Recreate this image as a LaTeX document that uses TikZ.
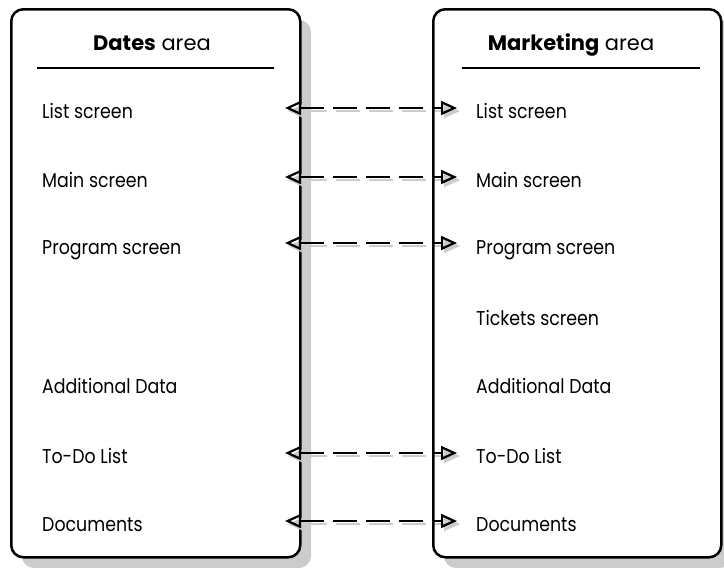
\documentclass[tikz,border=0pt]{standalone}
\usepackage{fontspec}
\setmainfont{Poppins}
\newfontfamily\itemfont[FakeStretch=0.87]{Poppins}
\usetikzlibrary{arrows.meta}
\definecolor{shadowgray}{HTML}{CCCCCC}
\begin{document}
\begin{tikzpicture}[x=1pt,y=-1pt,
  areabox/.style={draw=black, line width=2.5pt, rounded corners=12pt, fill=white,
    inner sep=0pt, anchor=north west},
  boxshadow/.style={fill=shadowgray, rounded corners=12pt},
  item/.style={anchor=base west, inner sep=0pt, font=\itemfont\fontsize{20}{24}\selectfont},
  head/.style={anchor=base, inner sep=0pt, font=\fontsize{21}{25}\selectfont},
  rule/.style={line width=1.6pt},
  link/.style={line width=2.2pt, dash pattern=on 24pt off 9pt,
    arrows={Triangle[open, length=16pt, width=14pt, line width=2.2pt]-Triangle[open, length=16pt, width=14pt, line width=2.2pt]}},
  linkshadow/.style={line width=2.2pt, draw=shadowgray, dash pattern=on 24pt off 9pt,
    arrows={Triangle[length=16pt, width=14pt, fill=shadowgray]-Triangle[length=16pt, width=14pt, fill=shadowgray]}}
]
\useasboundingbox (0,0) rectangle (724,568);

% drop shadows of the two areas
\fill[boxshadow] (22,20) rectangle (311,568);
\fill[boxshadow] (444,20) rectangle (732,568);

% the two areas
\node[areabox, minimum width=289pt, minimum height=548pt] (lbox) at (10,8) {};
\node[areabox, minimum width=288pt, minimum height=548pt] (rbox) at (432,8) {};

% headers
\node[head] (lhead) at (152,50) {\textbf{Dates} area};
\node[head] (rhead) at (571,50) {\textbf{Marketing} area};
\draw[rule] (37,68) -- (274,68);
\draw[rule] (462,68) -- (700,68);

% left items
\node[item] (l1) at (42,118) {List screen};
\node[item] (l2) at (42,187) {Main screen};
\node[item] (l3) at (42,254) {Program screen};
\node[item] (l5) at (42,393) {Additional Data};
\node[item] (l6) at (42,463) {To-Do List};
\node[item] (l7) at (42,531) {Documents};

% right items
\node[item] (r1) at (476,118) {List screen};
\node[item] (r2) at (476,187) {Main screen};
\node[item] (r3) at (476,254) {Program screen};
\node[item] (r4) at (476,325) {Tickets screen};
\node[item] (r5) at (476,393) {Additional Data};
\node[item] (r6) at (476,463) {To-Do List};
\node[item] (r7) at (476,531) {Documents};

% link end points
\foreach \n/\y in {1/108,2/177,3/243,6/453,7/521}{
  \coordinate (la\n) at (285,\y);
  \coordinate (ra\n) at (457,\y);
}

% links between matching screens
\foreach \n in {1,2,3,6,7}{
  \draw[linkshadow] ([shift={(3,3)}]la\n) -- ([shift={(3,3)}]ra\n);
}
\foreach \n in {1,2,3,6,7}{
  \draw[link] (la\n) -- (ra\n);
}
\end{tikzpicture}
\end{document}
